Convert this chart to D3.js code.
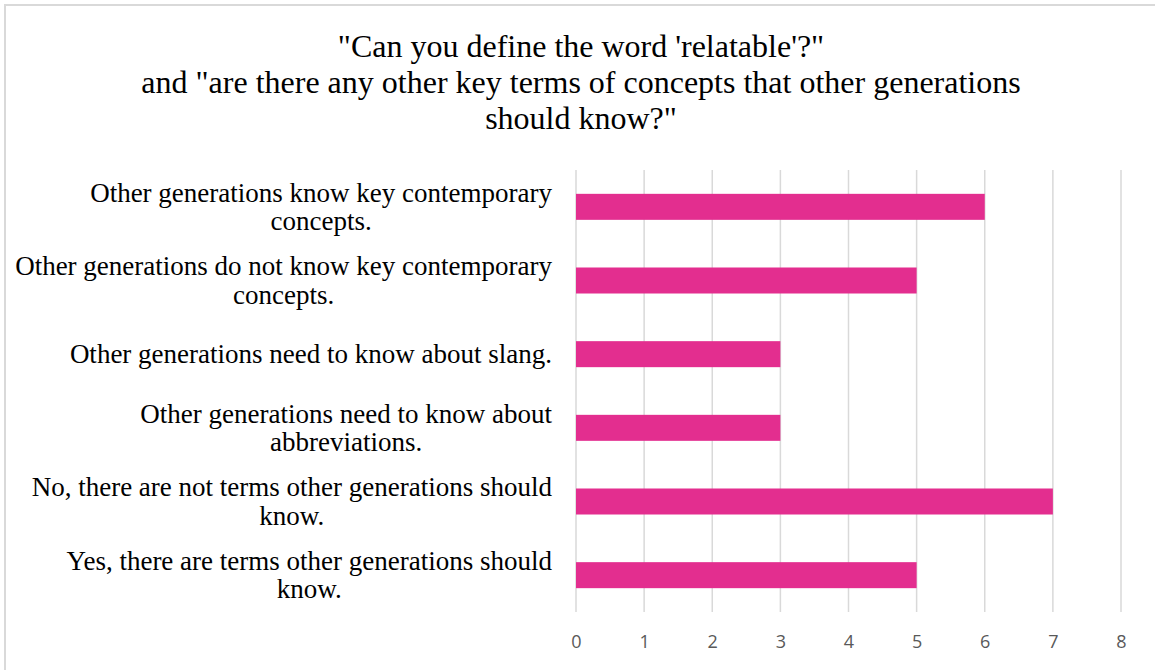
<!DOCTYPE html>
<html><head><meta charset="utf-8">
<script src="https://cdn.jsdelivr.net/npm/d3@7"></script>
<style>html,body{margin:0;padding:0;background:#fff;overflow:hidden}</style>
</head><body>
<svg id="chart" width="1155" height="670"></svg>
<script>
const titleLines = ["\"Can you define the word 'relatable'?\"", "and \"are there any other key terms of concepts that other generations", "should know?\""];
const categories = [
  ["Other generations know key contemporary", "concepts."],
  ["Other generations do not know key contemporary", "concepts."],
  ["Other generations need to know about slang."],
  ["Other generations need to know about", "abbreviations."],
  ["No, there are not terms other generations should", "know."],
  ["Yes, there are terms other generations should", "know."]
];
const values = [6, 5, 3, 3, 7, 5];
const tickValues = [0, 1, 2, 3, 4, 5, 6, 7, 8];

const svg = d3.select("#chart");
svg.append("rect").attr("x",0).attr("y",0).attr("width",1155).attr("height",670).attr("fill","#fff");
svg.append("path").attr("d","M5,672 L5,5 L1160,5").attr("fill","none").attr("stroke","#d9d9d9").attr("stroke-width",2);

const tg = svg.append("g");
titleLines.forEach((t,i)=>{
  tg.append("text").attr("x",581).attr("y",57 + i*36).attr("text-anchor","middle")
    .attr("font-family","'Liberation Serif','Times New Roman',serif").attr("font-size",32).attr("fill","#000").text(t);
});

const x = d3.scaleLinear().domain([0,8]).range([576,1121]);
const y = d3.scaleBand().domain(d3.range(categories.length)).range([170,612]).paddingInner(0.647).paddingOuter(0.3235);

svg.append("g").selectAll("line").data(tickValues).join("line")
  .attr("x1",d=>x(d)).attr("x2",d=>x(d)).attr("y1",170).attr("y2",612)
  .attr("stroke","#d9d9d9").attr("stroke-width",1.5);

svg.append("g").selectAll("rect").data(values).join("rect")
  .attr("x",x(0)).attr("y",(d,i)=>y(i)).attr("width",d=>x(d)-x(0)).attr("height",y.bandwidth())
  .attr("fill","#e32e8f");

const xa = svg.append("g").attr("transform","translate(0,612)")
  .call(d3.axisBottom(x).tickValues(tickValues).tickSize(0).tickPadding(23).tickFormat(d3.format("d")));
xa.select(".domain").remove();
xa.selectAll("text").attr("font-family","'Open Sans',sans-serif").attr("font-size",18).attr("fill","#595959");

const lg = svg.append("g");
const rightEdge = 552, lh = 28.5;
categories.forEach((lines,i)=>{
  const cy = y(i) + y.bandwidth()/2;
  const g = lg.append("g");
  const n = lines.length;
  const texts = lines.map((l,j)=> g.append("text")
    .attr("font-family","'Liberation Serif','Times New Roman',serif").attr("font-size",27).attr("fill","#000")
    .attr("y", cy + (j - (n-1)/2)*lh + 9).text(l));
  const widths = texts.map(t=>t.node().getComputedTextLength());
  const maxW = Math.max(...widths);
  const center = rightEdge - maxW/2;
  texts.forEach(t=>t.attr("x",center).attr("text-anchor","middle"));
});
</script>
</body></html>
